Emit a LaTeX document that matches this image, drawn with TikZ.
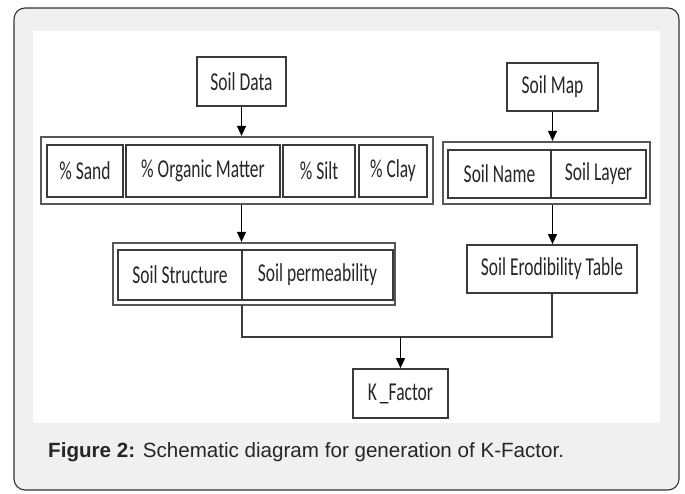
\documentclass[tikz,border=0pt]{standalone}
\usepackage{fontspec}
\setmainfont{Liberation Sans}
\newfontfamily\boxfont{Carlito}
\usetikzlibrary{arrows.meta,fit}
\definecolor{panel}{HTML}{EFF0F2}
\definecolor{ink}{HTML}{3A3A3A}
\definecolor{txt}{HTML}{262626}
\newcommand{\lbl}[1]{\scalebox{0.76}[1.12]{#1}}
\tikzset{
  cell/.style={draw=ink, line width=1.8pt, fill=white, inner sep=0pt,
    font=\boxfont\fontsize{23}{27}\selectfont, text=txt},
  group/.style={draw=ink!85, line width=2.2pt, inner sep=0pt},
  flow/.style={draw=black, line width=1.1pt, -{Triangle[length=10pt,width=9pt]}},
  link/.style={draw=ink, line width=1.5pt},
}
\begin{document}
\begin{tikzpicture}[x=1pt,y=-1pt]
\useasboundingbox (0,0) rectangle (685,493);
% frame and white drawing area
\draw[draw=black!80, line width=1.1pt, fill=panel, rounded corners=11pt] (14,8) rectangle (679,490);
\fill[white] (33,31) rectangle (660,423);

% sources
\node[cell, minimum width=89pt, minimum height=49pt] (data) at (241.5,81.5) {\lbl{Soil Data}};
\node[cell, minimum width=91pt, minimum height=48pt] (map) at (552.5,87) {\lbl{Soil Map}};

% soil data attributes
\node[group, minimum width=392pt, minimum height=67pt] (g1) at (237,170.5) {};
\node[cell, minimum width=76pt, minimum height=52pt] (sand) at (85,171) {\lbl{\% Sand}};
\node[cell, minimum width=154pt, minimum height=52pt] (org) at (203,171) {\lbl{\% Organic Matter}};
\node[cell, minimum width=72pt, minimum height=52pt] (silt) at (319,171) {\lbl{\% Silt}};
\node[cell, minimum width=68pt, minimum height=52pt] (clay) at (393,171) {\lbl{\% Clay}};

% soil map attributes
\node[group, minimum width=207pt, minimum height=62pt] (g2) at (546.5,173) {};
\node[cell, minimum width=103pt, minimum height=48pt] (name) at (499.5,174) {\lbl{Soil Name}};
\node[cell, minimum width=95pt, minimum height=48pt] (layer) at (598.5,174) {\lbl{Soil Layer}};

% derived properties
\node[group, minimum width=282pt, minimum height=62pt] (g3) at (254,274) {};
\node[cell, minimum width=124pt, minimum height=50pt] (struct) at (180,275) {\lbl{Soil Structure}};
\node[cell, minimum width=151pt, minimum height=50pt] (perm) at (317.5,275) {\lbl{Soil permeability}};

\node[cell, minimum width=170pt, minimum height=48pt] (erod) at (552,269) {\lbl{Soil Erodibility Table}};
\node[cell, minimum width=95pt, minimum height=49pt] (kf) at (400.5,393.5) {\lbl{K\,\_Factor}};

% connectors
\draw[flow] (data.south) -- (data.south |- g1.north);
\draw[flow] (map.south) -- (map.south |- g2.north);
\draw[flow] (g1.south -| data.south) -- (data.south |- g3.north);
\draw[flow] (g2.south -| map.south) -- (map.south |- erod.north);
\coordinate (join) at (400.5,337);
\coordinate (split) at (242,305);
\draw[link] (split) -- (split |- join) -- (join -| erod.south) -- (erod.south);
\draw[flow] (join) -- (kf.north);

% caption
\node[anchor=west, text=txt, font=\fontsize{20.6}{24}\selectfont, inner sep=0pt] (cap) at (48,452)
  {\textbf{Figure 2:} Schematic diagram for generation of K-Factor.};
\end{tikzpicture}
\end{document}
